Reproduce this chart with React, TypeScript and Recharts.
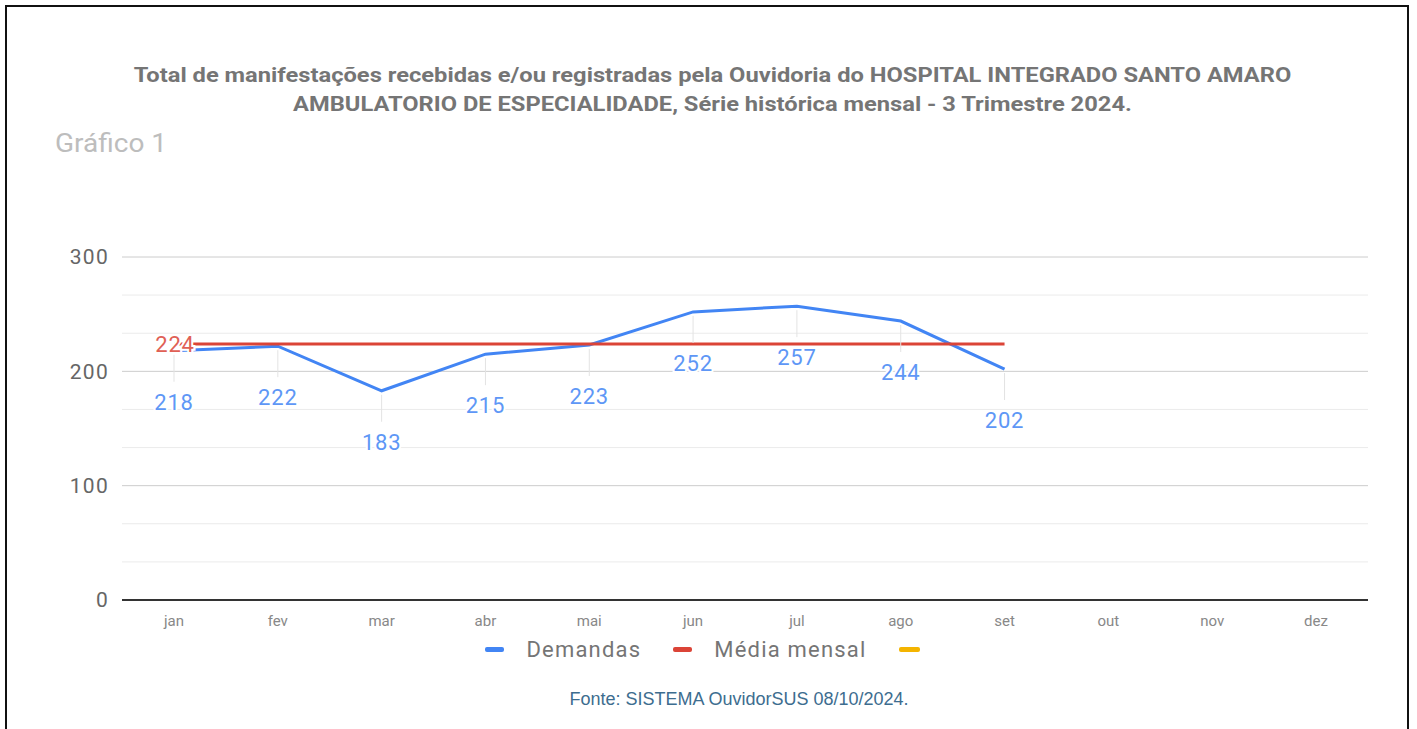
import React from 'react';
import { LineChart, Line, XAxis, YAxis, CartesianGrid, ReferenceLine } from 'recharts';

const meses = ['jan', 'fev', 'mar', 'abr', 'mai', 'jun', 'jul', 'ago', 'set', 'out', 'nov', 'dez'];
const demandas = [218, 222, 183, 215, 223, 252, 257, 244, 202, null, null, null];
const mediaMensal = [224, 224, 224, 224, 224, 224, 224, 224, 224, null, null, null];
const yTicks = [0, 100, 200, 300];
const linhasMenores = [33.3, 66.7, 133.3, 166.7, 233.3, 266.7];

const legenda = [
    { name: 'Demandas', color: '#4285f4' },
    { name: 'Média mensal', color: '#db4437' },
    { name: '', color: '#f4b400' },
];

const data = meses.map((m, i) => ({ mes: m, demandas: demandas[i], media: mediaMensal[i] }));

const FONT = 'Roboto, "Noto Sans", sans-serif';

// rótulo com haste, abaixo do ponto (estilo anotação do Google Charts)
const DemandaLabel = (props: any) => {
    const { x, y, value } = props;
    if (value == null) return null;
    return (
        <g>
            <line x1={x} x2={x} y1={y + 4} y2={y + 31} stroke="#e3e3e3" strokeWidth={1} />
            <text
                x={x}
                y={y + 59}
                textAnchor="middle"
                fontSize={22}
                letterSpacing={0.8}
                fontFamily={FONT}
                fill="#5e97f6"
                stroke="#fff"
                strokeWidth={4}
                paintOrder="stroke"
            >
                {value}
            </text>
        </g>
    );
};

const MediaLabel = (props: any) => {
    const { x, y, value, index } = props;
    if (index !== 0 || value == null) return null;
    return (
        <text
            x={x + 1}
            y={y + 8}
            textAnchor="middle"
            fontSize={22}
            letterSpacing={0.8}
            fontFamily={FONT}
            fill="#e06055"
            stroke="#fff"
            strokeWidth={4}
            paintOrder="stroke"
        >
            {value}
        </text>
    );
};

export default function App() {
    return (
        <div style={{ position: 'absolute', left: 0, top: 0, width: 1417, height: 729, overflow: 'hidden', background: '#fff', fontFamily: FONT }}>
            <div style={{ position: 'absolute', left: 5, top: 5, width: 1400, height: 760, border: '2px solid #111' }} />

            <div style={{ position: 'absolute', left: 0, width: 1425, top: 61, textAlign: 'center', fontSize: 21, fontWeight: 'bold', color: '#757575', lineHeight: '29px', transform: 'scaleX(1.128)', transformOrigin: '713px 0' }}>
                Total de manifestações recebidas e/ou registradas pela Ouvidoria do HOSPITAL INTEGRADO SANTO AMARO
                <br />
                AMBULATORIO DE ESPECIALIDADE, Série histórica mensal - 3 Trimestre 2024.
            </div>
            <div style={{ position: 'absolute', left: 55, top: 129, fontSize: 25, color: '#bdbdbd', transform: 'scaleX(1.12)', transformOrigin: '0 0' }}>Gráfico 1</div>

            <div style={{ position: 'absolute', left: 0, top: 0 }}>
                <LineChart width={1417} height={729} data={data} margin={{ top: 257, right: 49, bottom: 99, left: 62 }}>
                    <CartesianGrid vertical={false} stroke="#cccccc" />
                    {linhasMenores.map(v => (
                        <ReferenceLine key={v} y={v} stroke="#ebebeb" strokeWidth={1} />
                    ))}
                    <XAxis
                        dataKey="mes"
                        padding={{ left: 52, right: 52 }}
                        tickLine={false}
                        axisLine={false}
                        tick={{ fill: '#888', fontSize: 15, fontFamily: FONT }}
                        tickMargin={9}
                    />
                    <YAxis
                        width={60}
                        domain={[0, 300]}
                        ticks={yTicks}
                        tickLine={false}
                        axisLine={false}
                        tick={{ fill: '#666', fontSize: 21, fontFamily: FONT, letterSpacing: 1.3 }}
                        tickMargin={7}
                    />
                    <ReferenceLine y={0} stroke="#333" strokeWidth={2} />
                    <Line
                        dataKey="demandas"
                        stroke="#4285f4"
                        strokeWidth={3}
                        dot={false}
                        activeDot={false}
                        isAnimationActive={false}
                        label={<DemandaLabel />}
                    />
                    <Line
                        dataKey="media"
                        stroke="#db4437"
                        strokeWidth={3}
                        dot={false}
                        activeDot={false}
                        isAnimationActive={false}
                        label={<MediaLabel />}
                    />
                </LineChart>
            </div>

            <div style={{ position: 'absolute', left: 0, width: 1405, top: 637, display: 'flex', justifyContent: 'center', alignItems: 'center' }}>
                <div style={{ display: 'flex', alignItems: 'center' }}>
                    {legenda.map(item => (
                        <div key={item.color} style={{ display: 'flex', alignItems: 'center', marginRight: item.name ? 32 : 0 }}>
                            <span style={{ display: 'inline-block', width: item.name ? 19 : 21, height: 5, borderRadius: 2, background: item.color, marginRight: item.name ? 22 : 0 }} />
                            <span style={{ fontSize: 22, letterSpacing: 1.2, color: '#757575' }}>{item.name}</span>
                        </div>
                    ))}
                </div>
            </div>

            <div style={{ position: 'absolute', left: 0, width: 1478, top: 689, textAlign: 'center', fontSize: 18, color: '#3d6d8f', fontFamily: '"Liberation Sans", sans-serif' }}>
                Fonte: SISTEMA OuvidorSUS 08/10/2024.
            </div>
        </div>
    );
}
